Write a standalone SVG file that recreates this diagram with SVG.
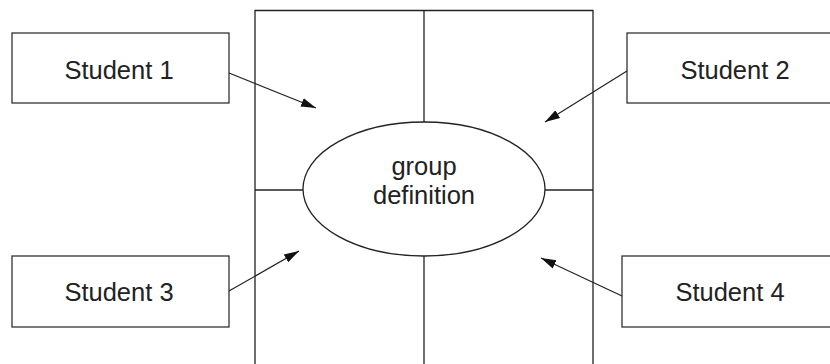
<svg xmlns="http://www.w3.org/2000/svg" width="830" height="364" viewBox="0 0 830 364">
<style>
.box{fill:#fff;stroke:#333;stroke-width:1.3}
.ln{fill:none;stroke:#222;stroke-width:1.3}
.arr{fill:none;stroke:#222;stroke-width:1.2;marker-end:url(#ah)}
text{font-family:"Liberation Sans",Arial,sans-serif;font-size:25.5px;fill:#222;text-anchor:middle}
</style>
<defs>
<marker id="ah" viewBox="0 0 10 10" refX="10" refY="5" markerWidth="15" markerHeight="15" markerUnits="userSpaceOnUse" orient="auto">
<path d="M0,2 L10,5 L0,8 z" fill="#111"/>
</marker>
</defs>
<g id="frame">
<path class="ln" d="M255,368 V10.5 H593 V368"/>
<line class="ln" x1="424" y1="10.5" x2="424" y2="122"/>
<line class="ln" x1="424" y1="256" x2="424" y2="368"/>
<line class="ln" x1="255" y1="190" x2="303" y2="190"/>
<line class="ln" x1="545" y1="190" x2="593" y2="190"/>
</g>
<g id="group-definition">
<ellipse class="ln" cx="424" cy="189" rx="121" ry="67" fill="#fff"/>
<text x="424" y="175">group</text>
<text x="424" y="204">definition</text>
</g>
<g id="student1">
<rect class="box" x="12" y="33" width="217" height="70"/>
<text x="119" y="79">Student 1</text>
</g>
<g id="student2">
<rect class="box" x="627" y="33" width="210" height="70"/>
<text x="735" y="79">Student 2</text>
</g>
<g id="student3">
<rect class="box" x="12" y="256" width="217" height="71"/>
<text x="119" y="301">Student 3</text>
</g>
<g id="student4">
<rect class="box" x="622" y="256" width="215" height="71"/>
<text x="730" y="301">Student 4</text>
</g>
<g id="connectors">
<line class="arr" x1="229" y1="73" x2="316" y2="108"/>
<line class="arr" x1="627" y1="71" x2="545" y2="122"/>
<line class="arr" x1="229" y1="291" x2="299" y2="251"/>
<line class="arr" x1="622" y1="296" x2="541" y2="258"/>
</g>
</svg>
